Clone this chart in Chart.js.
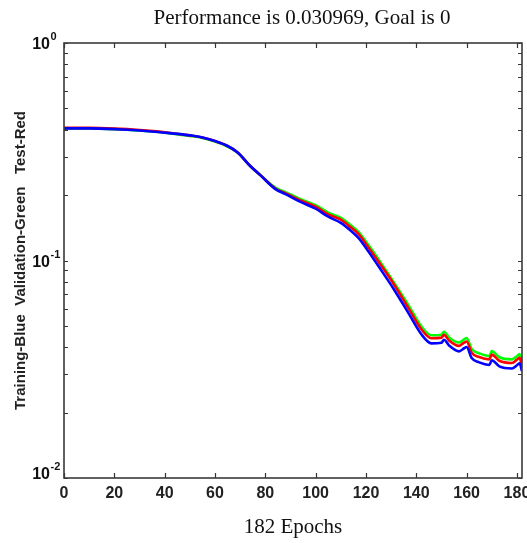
<!DOCTYPE html>
<html>
<head>
<meta charset="utf-8">
<script src="https://cdn.jsdelivr.net/npm/chart.js@4.4.1/dist/chart.umd.min.js"></script>
<style>
  html, body { margin: 0; padding: 0; background: #fff; }
  #perfChart { display: block; }
</style>
</head>
<body>
<canvas id="perfChart" width="527" height="543"></canvas>
<script>
const epochs = [0, 10, 20, 30, 40, 50, 55, 60, 65, 69, 74, 78, 84, 88, 94, 100, 105, 110, 114, 117,
  121, 125, 131, 137, 142, 146, 150, 151, 153, 157, 159, 160, 162, 165, 169, 170, 173, 178, 180, 181, 182];

const trainingPerf = [0.405, 0.405, 0.402, 0.396, 0.387, 0.376, 0.368, 0.354, 0.336, 0.314, 0.272, 0.247,
  0.213, 0.202, 0.186, 0.173, 0.159, 0.149, 0.137, 0.127, 0.110, 0.094, 0.074, 0.057, 0.0458, 0.0416,
  0.0419, 0.0432, 0.0407, 0.0382, 0.0395, 0.0400, 0.0356, 0.0340, 0.0331, 0.0348, 0.0326, 0.0319,
  0.0330, 0.0337, 0.030969];

const validationPerf = [0.405, 0.405, 0.402, 0.396, 0.387, 0.374, 0.366, 0.352, 0.334, 0.314, 0.272, 0.247,
  0.2164, 0.2063, 0.1914, 0.1796, 0.1659, 0.1571, 0.1452, 0.1353, 0.1178, 0.1012, 0.0797, 0.0620, 0.0498,
  0.0453, 0.0456, 0.0470, 0.0443, 0.0420, 0.0434, 0.0440, 0.0392, 0.0374, 0.0364, 0.0383, 0.0359,
  0.0351, 0.0363, 0.0371, 0.0341];

const testPerf = [0.407, 0.407, 0.404, 0.398, 0.389, 0.376, 0.368, 0.354, 0.336, 0.314, 0.272, 0.247,
  0.214, 0.204, 0.189, 0.177, 0.163, 0.154, 0.142, 0.1325, 0.1148, 0.0986, 0.0780, 0.0601, 0.0483,
  0.0439, 0.0442, 0.0455, 0.0429, 0.0405, 0.0419, 0.0424, 0.0377, 0.0360, 0.0351, 0.0369, 0.0346,
  0.0338, 0.0350, 0.0357, 0.0329];

const xTicks = [0, 20, 40, 60, 80, 100, 120, 140, 160, 180];
const yTicks = [0.01, 0.02, 0.03, 0.04, 0.05, 0.06, 0.07, 0.08, 0.09,
  0.1, 0.2, 0.3, 0.4, 0.5, 0.6, 0.7, 0.8, 0.9, 1];
const yLabelValues = [1, 0.1, 0.01];
const yLabelExps = ["0", "-1", "-2"];

const titleText = "Performance is 0.030969, Goal is 0";
const xTitle = "182 Epochs";
const yTitle = "Training-Blue  Validation-Green   Test-Red";

const sansNarrow = "'Liberation Sans Narrow', 'Liberation Sans', Arial, sans-serif";
const sans = "'Liberation Sans', Arial, sans-serif";
const serif = "'Liberation Serif', 'Times New Roman', serif";

function toPoints(values) {
  return epochs.map((e, i) => ({ x: e, y: values[i] }));
}

// matlab style frame: box, inward ticks on all sides, title and 10^n labels
const matlabFrame = {
  id: "matlabFrame",
  afterDraw(chart) {
    const { ctx, chartArea: a, scales } = chart;
    const xs = scales.x, ys = scales.y;
    ctx.save();

    ctx.strokeStyle = "#333";
    ctx.lineWidth = 1.2;
    ctx.beginPath();
    xTicks.forEach((v) => {
      const px = Math.round(xs.getPixelForValue(v)) + 0.5;
      ctx.moveTo(px, a.bottom);
      ctx.lineTo(px, a.bottom - 5);
      ctx.moveTo(px, a.top);
      ctx.lineTo(px, a.top + 5);
    });
    yTicks.forEach((v) => {
      const py = Math.round(ys.getPixelForValue(v)) + 0.5;
      ctx.moveTo(a.left, py);
      ctx.lineTo(a.left + 4, py);
      ctx.moveTo(a.right, py);
      ctx.lineTo(a.right - 4, py);
    });
    ctx.stroke();

    ctx.strokeStyle = "#3a3a3a";
    ctx.lineWidth = 1.6;
    ctx.strokeRect(a.left, a.top, a.right - a.left, a.bottom - a.top);

    // title
    ctx.fillStyle = "#111";
    ctx.font = "21px " + serif;
    ctx.textAlign = "center";
    ctx.textBaseline = "middle";
    ctx.fillText(titleText, 302, 18);

    // y labels with superscript exponents
    ctx.textBaseline = "alphabetic";
    yLabelValues.forEach((v, i) => {
      let py = ys.getPixelForValue(v);
      if (i === yLabelValues.length - 1) py -= 5;
      ctx.font = "bold 16px " + sansNarrow;
      ctx.textAlign = "right";
      ctx.fillText("10", 50, py + 6);
      ctx.font = "bold 11px " + sansNarrow;
      ctx.textAlign = "left";
      ctx.fillText(yLabelExps[i], 50.5, py - 3);
    });
    ctx.restore();
  }
};

new Chart(document.getElementById("perfChart"), {
  type: "line",
  data: {
    datasets: [
      {
        label: "Training",
        data: toPoints(trainingPerf),
        borderColor: "#0000ff",
      },
      {
        label: "Test",
        data: toPoints(testPerf),
        borderColor: "#ff0000",
      },
      {
        label: "Validation",
        data: toPoints(validationPerf),
        borderColor: "#00ff00",
      },
    ],
  },
  options: {
    responsive: false,
    animation: false,
    devicePixelRatio: 1,
    layout: { padding: { top: 43, right: 5, left: 0, bottom: 0 } },
    elements: {
      line: { borderWidth: 2.6, cubicInterpolationMode: "monotone", fill: false },
      point: { radius: 0, hoverRadius: 0 },
    },
    plugins: {
      legend: { display: false },
      tooltip: { enabled: false },
      title: { display: false },
    },
    scales: {
      x: {
        type: "linear",
        min: 0,
        max: 182,
        grid: { display: false, drawTicks: false },
        border: { display: false },
        afterBuildTicks: (scale) => {
          scale.ticks = xTicks.map((v) => ({ value: v }));
        },
        afterFit: (scale) => {
          scale.height = 65;
          scale.paddingLeft = 0;
          scale.paddingRight = 0;
        },
        ticks: {
          padding: 6,
          color: "#222",
          maxRotation: 0,
          autoSkip: false,
          font: { family: sansNarrow, size: 16, weight: "bold" },
        },
        title: {
          display: true,
          text: xTitle,
          color: "#111",
          font: { family: serif, size: 21 },
          padding: { top: 0, bottom: 3 },
        },
      },
      y: {
        type: "logarithmic",
        min: 0.01,
        max: 1,
        grid: { display: false, drawTicks: false },
        border: { display: false },
        afterBuildTicks: (scale) => {
          scale.ticks = yTicks.map((v) => ({ value: v }));
        },
        afterFit: (scale) => {
          scale.width = 64;
          scale.paddingTop = 0;
          scale.paddingBottom = 0;
        },
        ticks: { display: false },
        title: {
          display: true,
          text: yTitle,
          color: "#222",
          font: { family: sans, size: 15, weight: "bold" },
          padding: { top: 12, bottom: 0 },
        },
      },
    },
  },
  plugins: [matlabFrame],
});
</script>
</body>
</html>
